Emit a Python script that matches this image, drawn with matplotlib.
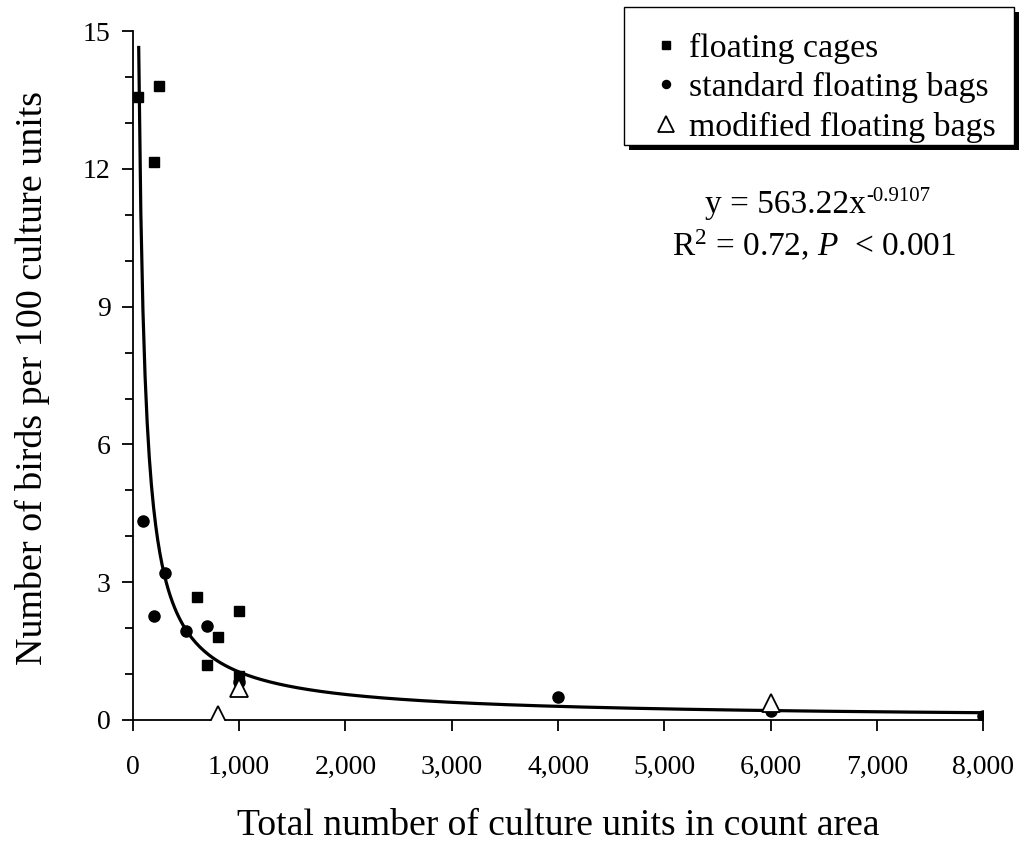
import numpy as np
import matplotlib
matplotlib.use('Agg')
import matplotlib.pyplot as plt
from matplotlib.patches import Rectangle
from matplotlib.ticker import MultipleLocator, FuncFormatter

plt.rcParams['font.family'] = ['Liberation Serif', 'DejaVu Serif']
plt.rcParams['mathtext.fontset'] = 'custom'
plt.rcParams['mathtext.rm'] = 'Liberation Serif'
plt.rcParams['mathtext.it'] = 'Liberation Serif:italic'

# floating cages
cage_x = [50, 250, 200, 600, 1000, 700, 800, 1000]
cage_y = [13.56, 13.8, 12.15, 2.68, 2.37, 1.20, 1.81, 0.95]

# standard floating bags
std_x = [100, 300, 200, 500, 700, 1000, 4000, 6000, 8000]
std_y = [4.33, 3.19, 2.26, 1.93, 2.05, 0.83, 0.49, 0.20, 0.09]

# modified floating bags
mod_x = [1000, 800, 6000]
mod_y = [0.70, 0.11, 0.36]

# power trendline as printed on the chart
coef_a = 563.22
coef_b = -0.9107
trend_x_min = 55
trend_x_max = 8000

fig = plt.figure(figsize=(10.22, 8.44), dpi=100)
ax = fig.add_axes([0.130, 0.147, 0.832, 0.816])

tx = np.linspace(trend_x_min, trend_x_max, 400)
ax.plot(tx, coef_a * tx ** coef_b, color='black', lw=2.3, zorder=2)

ax.plot(cage_x, cage_y, ls='none', marker='s', ms=7.5, color='black',
        label='floating cages', zorder=3)
ax.plot(std_x, std_y, ls='none', marker='o', ms=8, color='black',
        label='standard floating bags', zorder=3)
ax.plot(mod_x, mod_y, ls='none', marker='^', ms=13, mfc='white', mec='black',
        mew=1.3, label='modified floating bags', zorder=4)

ax.set_xlim(0, 8000)
ax.set_ylim(0, 15)
ax.spines['top'].set_visible(False)
ax.spines['right'].set_visible(False)
for s in ['left', 'bottom']:
    ax.spines[s].set_linewidth(1.3)

ax.xaxis.set_major_locator(MultipleLocator(1000))
ax.xaxis.set_major_formatter(FuncFormatter(lambda v, p: f'{int(v):,}'))
ax.yaxis.set_major_locator(MultipleLocator(3))
ax.yaxis.set_minor_locator(MultipleLocator(1))
ax.tick_params(axis='both', which='major', direction='out', length=8, width=1.3,
               labelsize=20, pad=8)
ax.tick_params(axis='y', which='minor', direction='out', length=6, width=1.3)
ax.tick_params(axis='x', pad=17)

ax.set_xlabel('Total number of culture units in count area', fontsize=27.1, labelpad=21)
ax.set_ylabel('Number of birds per 100 culture units', fontsize=27.4, labelpad=15)
ax.yaxis.set_label_coords(-0.098, 0.496)

# trendline equation, superscript drawn as its own text so the hyphen stays a hyphen
eq = fig.text(0.690, 0.757, 'y = 563.22x', ha='left', va='center', fontsize=24)
ax.annotate('-0.9107', xy=(1, 1), xycoords=eq, xytext=(0, 2), textcoords='offset points',
            ha='left', va='top', fontsize=15)
fig.text(0.797, 0.709, r'R$^{\mathregular{2}}$ = 0.72, $P$  < 0.001',
         ha='center', va='center', fontsize=24)

# legend entries without a frame; the boxed frame + shadow are drawn by hand below
leg = ax.legend(loc='upper right', bbox_to_anchor=(0.9746, 0.9615),
                bbox_transform=fig.transFigure, fontsize=24.4, frameon=False,
                handlelength=1.0, handletextpad=0.2, borderpad=0,
                labelspacing=0.25, borderaxespad=0)
leg.set_zorder(7)
for h in leg.legend_handles:
    if h.get_marker() == '^':
        h.set_markersize(12)
    else:
        h.set_markersize(5.8)

fig.canvas.draw()
bb = leg.get_window_extent()
pad_l, pad_r, pad_t, pad_b = 25, 18, 25, 2
fx0, fy0 = bb.x0 - pad_l, bb.y0 - pad_b
fw, fh = bb.width + pad_l + pad_r, bb.height + pad_t + pad_b
ax.add_patch(Rectangle((fx0 + 5, fy0 - 5), fw, fh, transform=None,
                       facecolor='black', edgecolor='none', clip_on=False, zorder=5.8))
ax.add_patch(Rectangle((fx0, fy0), fw, fh, transform=None, facecolor='white',
                       edgecolor='black', lw=1.0, clip_on=False, zorder=5.9))

fig.savefig('out.png', dpi=100)
